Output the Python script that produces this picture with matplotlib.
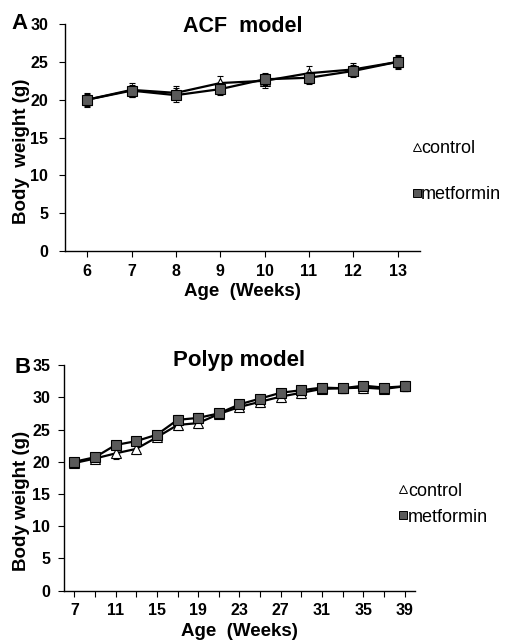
import matplotlib
matplotlib.use("Agg")
import matplotlib.pyplot as plt
from matplotlib.lines import Line2D

plt.rcParams['font.family'] = ['Liberation Sans', 'DejaVu Sans']

# ACF model data
acf_weeks = [6, 7, 8, 9, 10, 11, 12, 13]
acf_control = [20.0, 21.3, 20.9, 22.2, 22.5, 23.5, 24.0, 25.0]
acf_control_err = [0.9, 0.9, 0.9, 0.9, 0.9, 0.9, 0.9, 0.9]
acf_metformin = [20.0, 21.2, 20.6, 21.4, 22.7, 22.9, 23.8, 25.0]
acf_metformin_err = [0.8, 0.8, 0.9, 0.8, 0.8, 0.8, 0.8, 0.8]
acf_xticks = [6, 7, 8, 9, 10, 11, 12, 13]
acf_yticks = [0, 5, 10, 15, 20, 25, 30]

# Polyp model data
polyp_weeks = [7, 9, 11, 13, 15, 17, 19, 21, 23, 25, 27, 29, 31, 33, 35, 37, 39]
polyp_control = [19.8, 20.5, 21.3, 22.0, 23.8, 25.7, 26.0, 27.4, 28.5, 29.3,
                 30.1, 30.7, 31.3, 31.4, 31.5, 31.3, 31.7]
polyp_control_err = [0.6, 0.7, 0.8, 0.8, 0.6, 0.8, 0.7, 0.6, 0.6, 0.8,
                     0.8, 0.8, 0.7, 0.7, 0.8, 0.6, 0.8]
polyp_metformin = [20.0, 20.7, 22.6, 23.2, 24.2, 26.5, 26.8, 27.5, 28.9, 29.8,
                   30.7, 31.1, 31.5, 31.4, 31.8, 31.5, 31.7]
polyp_metformin_err = [0.6, 0.7, 0.6, 0.6, 0.6, 0.7, 0.7, 0.7, 0.6, 0.6,
                       0.6, 0.7, 0.6, 0.7, 0.6, 0.6, 0.7]
polyp_xticks = [7, 11, 15, 19, 23, 27, 31, 35, 39]
polyp_minor = [9, 13, 17, 21, 25, 29, 33, 37]
polyp_yticks = [0, 5, 10, 15, 20, 25, 30, 35]

series_labels = ['control', 'metformin']

fig = plt.figure(figsize=(5.12, 6.43), dpi=100)

ax1 = fig.add_axes([0.127, 0.6096, 0.693, 0.353])
ax2 = fig.add_axes([0.125, 0.0813, 0.6855, 0.3510])

sq_face = '#5a5a5a'


def draw(ax, x, c, ce, m, me, xt, yt, ypad):
    ax.errorbar(x, c, yerr=ce, color='black', lw=1.6, marker='^', ms=7.5,
                mfc='white', mec='black', mew=0.8, elinewidth=0.6, capsize=2,
                capthick=0.6, zorder=3)
    ax.errorbar(x, m, yerr=me, color='black', lw=1.6, marker='s', ms=7,
                mfc=sq_face, mec='black', mew=0.8, elinewidth=0.6, capsize=2,
                capthick=0.6, zorder=4)
    for s in ['top', 'right']:
        ax.spines[s].set_visible(False)
    for s in ['left', 'bottom']:
        ax.spines[s].set_linewidth(1.0)
    ax.set_xticks(xt)
    ax.set_yticks(yt)
    ax.set_xticklabels([str(v) for v in xt], fontweight='bold')
    ax.set_yticklabels([str(v) for v in yt], fontweight='bold')
    ax.tick_params(axis='x', direction='out', length=4, width=0.8,
                   labelsize=11.5, pad=5)
    ax.tick_params(axis='y', direction='out', length=4, width=0.8,
                   labelsize=11.5, pad=ypad)


draw(ax1, acf_weeks, acf_control, acf_control_err, acf_metformin,
     acf_metformin_err, acf_xticks, acf_yticks, 8)
ax1.set_xlim(5.5, 13.5)
ax1.set_ylim(0, 30)
ax1.set_xlabel('Age  (Weeks)', fontsize=13.5, fontweight='bold')
ax1.set_ylabel('Body  weight (g)', fontsize=13.5, fontweight='bold')
ax1.xaxis.set_label_coords(0.5, -0.14)
ax1.yaxis.set_label_coords(-0.10, 0.44)
ax1.text(0.5, 0.99, 'ACF  model', transform=ax1.transAxes, ha='center',
         va='center', fontsize=15.5, fontweight='bold')
fig.text(0.022, 0.963, 'A', fontsize=16, fontweight='bold', va='center')

draw(ax2, polyp_weeks, polyp_control, polyp_control_err, polyp_metformin,
     polyp_metformin_err, polyp_xticks, polyp_yticks, 6)
ax2.set_xticks(polyp_minor, minor=True)
ax2.tick_params(which='minor', direction='out', length=4, width=0.8)
ax2.set_xlim(6, 40)
ax2.set_ylim(0, 35)
ax2.set_xlabel('Age  (Weeks)', fontsize=13.5, fontweight='bold')
ax2.set_ylabel('Body weight (g)', fontsize=13.5, fontweight='bold')
ax2.xaxis.set_label_coords(0.5, -0.145)
ax2.yaxis.set_label_coords(-0.097, 0.40)
ax2.text(0.5, 1.022, 'Polyp model', transform=ax2.transAxes, ha='center',
         va='center', fontsize=16, fontweight='bold')
fig.text(0.028, 0.429, 'B', fontsize=16, fontweight='bold', va='center')

handles = [Line2D([], [], ls='none', marker='^', ms=6, mfc='white', mec='black', mew=0.7),
           Line2D([], [], ls='none', marker='s', ms=5.5, mfc=sq_face, mec='black', mew=0.7)]
fig.legend(handles, series_labels, loc='center left',
           bbox_to_anchor=(0.806, 0.733), bbox_transform=fig.transFigure,
           frameon=False, handlelength=0.45, handletextpad=0.02,
           labelspacing=1.6, fontsize=13, borderpad=0, borderaxespad=0)
fig.legend(handles, series_labels, loc='center left',
           bbox_to_anchor=(0.780, 0.216), bbox_transform=fig.transFigure,
           frameon=False, handlelength=0.45, handletextpad=0.02,
           labelspacing=0.5, fontsize=13, borderpad=0, borderaxespad=0)

fig.savefig('out.png', dpi=100, facecolor='white')
